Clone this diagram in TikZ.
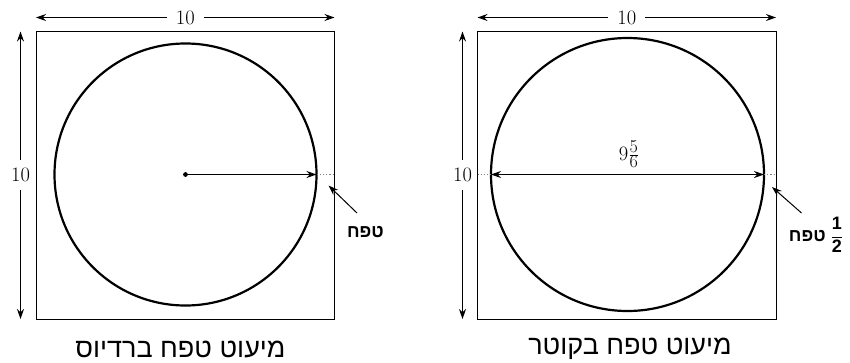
\documentclass[tikz,border=0pt]{standalone}
\usepackage{fontspec}
\usetikzlibrary{arrows.meta}
\TeXXeTstate=1
\newfontfamily\hebfont[Script=Hebrew]{Liberation Sans}
\begin{document}
\begin{tikzpicture}[x=1pt,y=-1pt,
  box/.style={draw,line width=1pt},
  circ/.style={draw,line width=2.2pt},
  dim/.style={line width=1pt,{Stealth[length=10pt,width=7pt]}-{Stealth[length=10pt,width=7pt]}},
  ptr/.style={line width=1pt,-{Stealth[length=10pt,width=7pt]}},
  gap/.style={gray,dotted,line width=1.2pt},
  num/.style={font=\fontsize{20.5}{22}\selectfont,fill=white,inner xsep=9pt,inner ysep=2pt},
  heb/.style={font=\hebfont\bfseries\fontsize{18}{20}\selectfont},
  captext/.style={font=\hebfont\fontsize{27}{30}\selectfont}]
\useasboundingbox (0,0) rectangle (850,362);
% ---------- left panel ----------
\coordinate (LTL) at (36,31.5);
\coordinate (LBR) at (334.5,319);
\draw[box] (LTL) rectangle (LBR);
\coordinate (Lc) at (185.5,174.5);
\draw[circ] (Lc) circle (131);
\fill (Lc) circle (2.4);
\coordinate (Lr) at (316.5,174.5);
\coordinate (Lw) at (334.5,174.5);
\draw[ptr] (Lc) -- (Lr);
\draw[gap] (Lr) -- (Lw);
\coordinate (Lt1) at (36,17.5);
\coordinate (Lt2) at (334.5,17.5);
\draw[dim] (Lt1) -- node[num] (Ltop) {10} (Lt2);
\coordinate (Ll1) at (20.5,31.5);
\coordinate (Ll2) at (20.5,319);
\draw[dim] (Ll1) -- node[num,inner xsep=0pt,inner ysep=8pt] (Lleft) {10} (Ll2);
\node[heb] (Ltef) at (365.5,232) {\beginR טפח\endR};
\coordinate (Lp1) at (357,213);
\coordinate (Lp2) at (328.5,185.5);
\draw[ptr] (Lp1) -- (Lp2);
\node[captext] (Lcap) at (180.5,349) {\beginR מיעוט טפח ברדיוס\endR};
% ---------- right panel ----------
\coordinate (RTL) at (477.5,31.5);
\coordinate (RBR) at (776,319);
\draw[box] (RTL) rectangle (RBR);
\coordinate (Rc) at (627.5,174.5);
\draw[circ] (Rc) circle (136.5);
\coordinate (Ra) at (491,174.5);
\coordinate (Rb) at (764,174.5);
\coordinate (Rwa) at (477.5,174.5);
\coordinate (Rwb) at (776,174.5);
\draw[dim] (Ra) -- (Rb);
\draw[gap] (Rwa) -- (Ra);
\draw[gap] (Rb) -- (Rwb);
\node[font=\fontsize{20.5}{22}\selectfont,inner sep=1pt] (Rdia) at (629,154)
  {9$\frac{\hbox{\fontsize{18}{18}\selectfont 5}}{\hbox{\fontsize{18}{18}\selectfont 6}}$};
\coordinate (Rt1) at (477.5,17.5);
\coordinate (Rt2) at (776,17.5);
\draw[dim] (Rt1) -- node[num] (Rtop) {10} (Rt2);
\coordinate (Rl1) at (462.5,31.5);
\coordinate (Rl2) at (462.5,319);
\draw[dim] (Rl1) -- node[num,inner xsep=0pt,inner ysep=8pt] (Rleft) {10} (Rl2);
\node[heb,inner sep=0pt] (Rtef) at (816,235) {\beginR$\displaystyle\frac{\hbox{\hebfont\bfseries 1}}{\hbox{\hebfont\bfseries 2}}$\hskip5pt טפח\endR};
\coordinate (Rp1) at (801.5,213);
\coordinate (Rp2) at (772,187);
\draw[ptr] (Rp1) -- (Rp2);
\node[captext] (Rcap) at (630,349) {\beginR מיעוט טפח בקוטר\endR};
\end{tikzpicture}
\end{document}
